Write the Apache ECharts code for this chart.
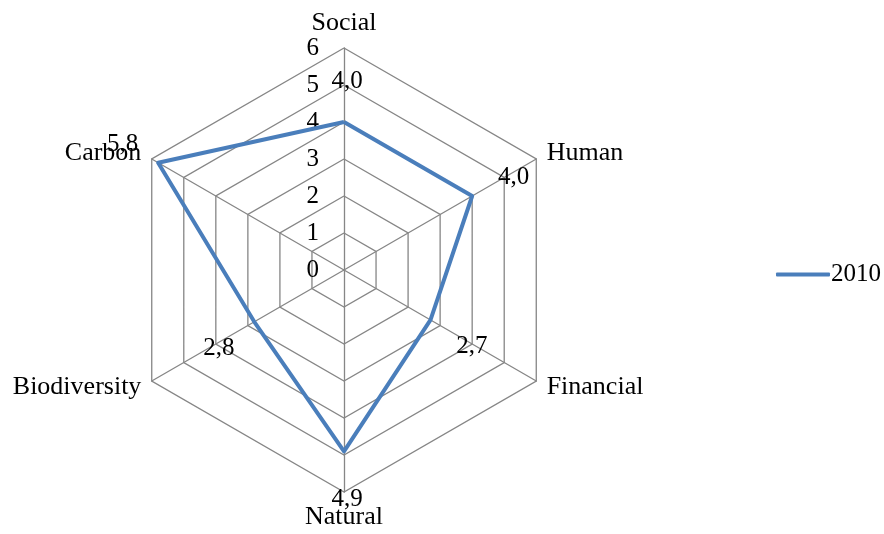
<!DOCTYPE html>
<html><head><meta charset="utf-8">
<script src="https://cdn.jsdelivr.net/npm/echarts@6/dist/echarts.min.js"></script>
<style>html,body{margin:0;padding:0;background:#fff}#c{width:884px;height:534px}</style>
</head><body><div id="c"></div>
<script>
// clockwise order starting at top
var categories = ['Social', 'Human', 'Financial', 'Natural', 'Biodiversity', 'Carbon'];
var seriesName = '2010';
var values = [4.0, 4.0, 2.7, 4.9, 2.8, 5.8];
var tickValues = [0, 1, 2, 3, 4, 5, 6];
var LABEL_OFFSET = 1.2;

// ECharts radar runs counter-clockwise: reorder to draw clockwise
var order = [0, 5, 4, 3, 2, 1];
function reorder(arr) { return order.map(function (i) { return arr[i]; }); }

var FONT = "'Liberation Serif', 'Times New Roman', serif";
var chart = echarts.init(document.getElementById('c'));
chart.setOption({
  backgroundColor: '#fff',
  animation: false,
  textStyle: { fontFamily: FONT },
  legend: {
    data: [seriesName], left: 771, top: 257, orient: 'vertical',
    icon: 'roundRect', itemWidth: 54, itemHeight: 4, itemGap: 4,
    textStyle: { fontFamily: FONT, fontSize: 25, color: '#000', padding: [0, 0, 0, -4] }
  },
  grid: { left: 344, top: 48, width: 1, height: 222 },
  xAxis: { type: 'value', show: false },
  yAxis: {
    type: 'value', min: tickValues[0], max: tickValues[tickValues.length - 1], interval: 1,
    axisLine: { show: false }, axisTick: { show: false }, splitLine: { show: false },
    axisLabel: { margin: 25, fontSize: 25, color: '#000', fontFamily: FONT }
  },
  radar: {
    center: [344, 270], radius: 222, startAngle: 90, splitNumber: 6, shape: 'polygon',
    indicator: reorder(categories).map(function (c) { return { name: c, min: 0, max: 6 }; }),
    nameGap: 12,
    axisName: { color: '#000', fontSize: 26, fontFamily: FONT },
    axisLine: { lineStyle: { color: '#868686', width: 1.3 } },
    splitLine: { lineStyle: { color: '#868686', width: 1.3 } },
    splitArea: { show: false },
    axisTick: { show: false }, axisLabel: { show: false }
  },
  series: [{
    type: 'radar', name: seriesName, symbol: 'none',
    lineStyle: { color: '#4a7ebb', width: 4 },
    itemStyle: { color: '#4a7ebb' },
    data: [{ name: seriesName, value: reorder(values) }]
  }, {
    type: 'radar', name: 'labels', symbol: 'circle', symbolSize: 1,
    lineStyle: { width: 0, color: 'rgba(0,0,0,0)' }, itemStyle: { color: 'rgba(0,0,0,0)', borderWidth: 0 }, silent: true,
    label: {
      show: true, position: 'inside', offset: [3, 4], fontSize: 25, color: '#000', fontFamily: FONT,
      formatter: function (p) { return (p.value - LABEL_OFFSET).toFixed(1).replace('.', ','); }
    },
    data: [{ name: 'labels', value: reorder(values).map(function (v) { return v + LABEL_OFFSET; }) }]
  }]
});
</script></body></html>
